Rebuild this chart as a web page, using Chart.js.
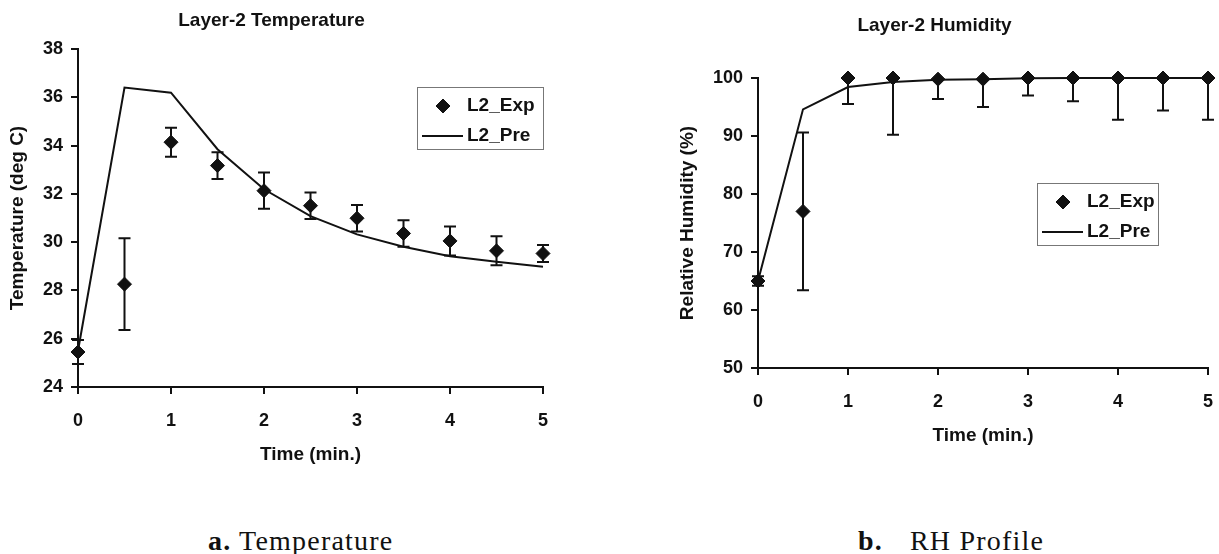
<!DOCTYPE html>
<html>
<head>
<meta charset="utf-8">
<title>Layer-2 Temperature and Humidity</title>
<script src="https://cdn.jsdelivr.net/npm/chart.js@4.4.1/dist/chart.umd.min.js"></script>
<style>
  html, body { margin: 0; padding: 0; background: #fff; overflow: hidden; }
  body { width: 1219px; height: 554px; position: relative; }
  canvas { position: absolute; top: 0; }
  #tempChart { left: 0; }
  #rhChart { left: 661px; }
  .caption {
    position: absolute;
    top: 527px;
    font-family: "Liberation Serif", "Times New Roman", serif;
    font-size: 28px;
    line-height: 28px;
    color: #111;
    letter-spacing: 1.2px;
    white-space: nowrap;
  }
  #capA { left: 208px; }
  #capB { left: 858px; }
</style>
</head>
<body>
<canvas id="tempChart" width="587" height="470"></canvas>
<canvas id="rhChart" width="600" height="451"></canvas>
<div class="caption" id="capA"><b>a.</b> Temperature</div>
<div class="caption" id="capB"><b>b.</b><span style="margin-left:27px">RH Profile</span></div>

<script>
// time (min.)
const times = [0, 0.5, 1, 1.5, 2, 2.5, 3, 3.5, 4, 4.5, 5];

// layer-2 temperature (deg C)
const tempExp = [25.45, 28.26, 34.14, 33.17, 32.13, 31.51, 30.99, 30.36, 30.05, 29.64, 29.53];
const tempExpErr = [0.5, 1.9, 0.6, 0.55, 0.75, 0.55, 0.55, 0.55, 0.6, 0.6, 0.35];
const tempPre = [25.5, 36.4, 36.19, 33.85, 32.19, 31.08, 30.32, 29.81, 29.42, 29.19, 28.98];

// layer-2 relative humidity (%)
const rhExp = [65, 77, 100, 100, 99.8, 99.8, 100, 100, 100, 100, 100];
const rhExpErr = [0.8, 13.6, 4.5, 9.8, 3.4, 4.8, 3.0, 4.0, 7.2, 5.6, 7.2];
const rhPre = [65, 94.6, 98.45, 99.3, 99.7, 99.8, 99.95, 100, 100, 100, 100];

// tick labels
const timeTicks = [0, 1, 2, 3, 4, 5];
const tempTicks = [24, 26, 28, 30, 32, 34, 36, 38];
const rhTicks = [50, 60, 70, 80, 90, 100];

const INK = '#111';
Chart.defaults.font.family = '"Liberation Sans", Arial, sans-serif';
Chart.defaults.color = INK;

function points(vals) {
  return times.map((t, i) => ({ x: t, y: vals[i] }));
}

// vertical error bars with caps, cut off at the axis limits
const errorBars = {
  id: 'errorBars',
  afterDatasetsDraw(chart) {
    const { ctx } = chart;
    const xs = chart.scales.x, ys = chart.scales.y;
    chart.data.datasets.forEach(ds => {
      if (!ds.errorBars) return;
      ctx.save();
      ctx.strokeStyle = INK;
      ctx.lineWidth = 2;
      ds.data.forEach((p, i) => {
        const e = ds.errorBars[i];
        const hi = p.y + e, lo = p.y - e;
        const x = xs.getPixelForValue(p.x);
        const yTop = ys.getPixelForValue(Math.min(hi, ys.max));
        const yBot = ys.getPixelForValue(Math.max(lo, ys.min));
        ctx.beginPath();
        ctx.moveTo(x, yTop);
        ctx.lineTo(x, yBot);
        if (hi <= ys.max) { ctx.moveTo(x - 6, yTop); ctx.lineTo(x + 6, yTop); }
        if (lo >= ys.min) { ctx.moveTo(x - 6, yBot); ctx.lineTo(x + 6, yBot); }
        ctx.stroke();
      });
      ctx.restore();
    });
  }
};

// framed legend like the spreadsheet one
const boxLegend = {
  id: 'boxLegend',
  afterDraw(chart, args, opts) {
    const { ctx, chartArea } = chart;
    const left = Math.round(chartArea.right - opts.right - opts.width);
    const top = Math.round(chartArea.top + opts.top);
    const [exp, pre] = chart.data.datasets;
    ctx.save();
    ctx.fillStyle = '#fff';
    ctx.fillRect(left, top, opts.width, opts.height);
    ctx.strokeStyle = '#777';
    ctx.lineWidth = 1;
    ctx.strokeRect(left + 0.5, top + 0.5, opts.width, opts.height);

    ctx.fillStyle = INK;
    ctx.strokeStyle = INK;
    Chart.helpers.drawPoint(ctx, { pointStyle: 'rectRot', radius: 7, borderWidth: 1 }, left + 26, top + 19);
    ctx.lineWidth = 2;
    ctx.beginPath();
    ctx.moveTo(left + 5, top + 49);
    ctx.lineTo(left + 46, top + 49);
    ctx.stroke();

    ctx.font = 'bold 19px "Liberation Sans", Arial, sans-serif';
    ctx.textBaseline = 'middle';
    ctx.fillText(exp.label, left + 50, top + 19);
    ctx.fillText(pre.label, left + 50, top + 49);
    ctx.restore();
  }
};

function makeChart(id, cfg) {
  const tickFont = { size: 18, weight: 'bold' };
  const titleFont = { size: 19, weight: 'bold' };
  new Chart(document.getElementById(id), {
    type: 'scatter',
    data: {
      datasets: [
        {
          label: 'L2_Exp',
          data: points(cfg.exp),
          errorBars: cfg.err,
          pointStyle: 'rectRot',
          pointRadius: 7,
          pointBorderWidth: 1,
          backgroundColor: INK,
          borderColor: INK,
          showLine: false,
          clip: false,
          order: 1
        },
        {
          label: 'L2_Pre',
          data: points(cfg.pre),
          showLine: true,
          borderColor: INK,
          borderWidth: 2,
          pointRadius: 0,
          tension: 0,
          clip: false,
          order: 2
        }
      ]
    },
    options: {
      responsive: false,
      animation: false,
      layout: { padding: { left: 0, right: cfg.padRight, top: 0, bottom: 0 } },
      plugins: {
        legend: { display: false },
        tooltip: { enabled: false },
        title: {
          display: true,
          text: cfg.title,
          color: INK,
          font: titleFont,
          padding: cfg.titlePad
        },
        boxLegend: cfg.legend
      },
      scales: {
        x: {
          type: 'linear',
          min: 0,
          max: 5,
          afterBuildTicks: s => { s.ticks = timeTicks.map(v => ({ value: v })); },
          afterFit: s => { s.height = 83; },
          border: { display: true, color: INK, width: 2 },
          grid: { drawOnChartArea: false, drawTicks: true, tickLength: 7, color: INK, lineWidth: 2 },
          ticks: { font: tickFont, color: INK, padding: 16, maxRotation: 0 },
          title: { display: true, text: 'Time (min.)', color: INK, font: titleFont, padding: { top: 0, bottom: 3.6 } }
        },
        y: {
          type: 'linear',
          min: cfg.yTicks[0],
          max: cfg.yTicks[cfg.yTicks.length - 1],
          afterBuildTicks: s => { s.ticks = cfg.yTicks.map(v => ({ value: v })); },
          afterFit: s => { s.width = cfg.yWidth; },
          border: { display: true, color: INK, width: 2 },
          grid: { drawOnChartArea: false, drawTicks: true, tickLength: 7, color: INK, lineWidth: 2 },
          ticks: { font: tickFont, color: INK, padding: 8 },
          title: { display: true, text: cfg.yTitle, color: INK, font: titleFont, padding: { top: cfg.yTitlePad, bottom: 0 } }
        }
      }
    },
    plugins: [errorBars, boxLegend]
  });
}

makeChart('tempChart', {
  title: 'Layer-2 Temperature',
  titlePad: { top: 9.6, bottom: 16.6 },
  yTitle: 'Temperature (deg C)',
  yTitlePad: 6.6,
  yWidth: 78,
  padRight: 44,
  yTicks: tempTicks,
  exp: tempExp,
  err: tempExpErr,
  pre: tempPre,
  legend: { right: 0, top: 38, width: 126, height: 62 }
});

makeChart('rhChart', {
  title: 'Layer-2 Humidity',
  titlePad: { top: 14.6, bottom: 40.6 },
  yTitle: 'Relative Humidity (%)',
  yTitlePad: 15.6,
  yWidth: 97,
  padRight: 53,
  yTicks: rhTicks,
  exp: rhExp,
  err: rhExpErr,
  pre: rhPre,
  legend: { right: 50, top: 105, width: 121, height: 62 }
});
</script>
</body>
</html>
